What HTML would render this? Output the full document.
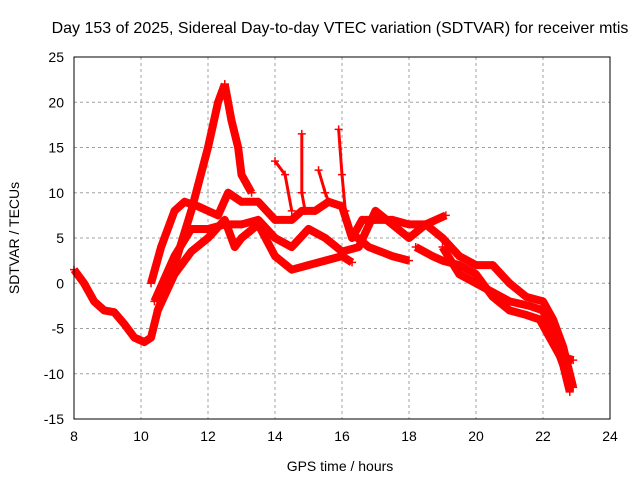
<!DOCTYPE html>
<html><head><meta charset="utf-8"><style>
body{margin:0;background:#fff;width:640px;height:480px;overflow:hidden}
svg text{font-family:"Liberation Sans",sans-serif;font-size:14px;fill:#000}
</style></head><body>
<svg id="c" width="640" height="480">
<text x="340" y="33" text-anchor="middle" style="font-size:16px">Day 153 of 2025, Sidereal Day-to-day VTEC variation (SDTVAR) for receiver mtis</text>
<text x="340" y="471" text-anchor="middle">GPS time / hours</text>
<text x="19" y="238" text-anchor="middle" transform="rotate(-90 19 238)">SDTVAR / TECUs</text>
<g id="grid"></g><g id="marks"></g>
<rect x="74" y="57" width="536" height="362" fill="none" stroke="#000"/>
</svg>
<script>
const xTicks=[8,10,12,14,16,18,20,22,24];
const yTicks=[25,20,15,10,5,0,-5,-10,-15];
const traceA=[[8,1.5],[8.3,0],[8.6,-2],[8.9,-3],[9.2,-3.2],[9.5,-4.5],[9.8,-6],[10.1,-6.5],[10.3,-6],[10.5,-3],[10.8,0],[11,2],[11.5,8],[12,15],[12.3,20],[12.5,22]];
const traceB=[[10.3,0],[10.6,4],[11,8],[11.3,9],[11.7,8.5],[12,8],[12.3,7.5],[12.6,10],[13,9],[13.5,9],[14,7],[14.5,7],[14.8,8],[15.2,8],[15.6,9],[16,8.5],[16.3,5],[16.6,7],[17,7],[17.5,7],[18,6.5],[18.5,6.5],[19,5],[19.5,3],[20,2],[20.5,2],[21,0],[21.5,-1.5],[22,-2],[22.3,-4],[22.6,-7],[22.9,-11.5]];
const traceC=[[10.4,-2],[11,3],[11.5,6],[12,6],[12.5,6.5],[13,6.5],[13.5,7],[14,5],[14.5,4],[15,6],[15.5,5],[16,3.5],[16.5,4],[17,8],[17.5,6.5],[18,5],[18.5,6.5],[19.1,7.5]];
const traceD=[[10.5,-3],[11,1],[11.5,3.5],[12,5],[12.5,7],[12.8,4],[13,5],[13.5,6.5],[14,3],[14.5,1.5],[15,2],[15.5,2.5],[16,3],[16.3,2.3]];
const traceE=[[16.3,5.5],[16.8,4],[17.5,3],[18,2.5]];
const traceF=[[18.2,4],[18.7,3],[19,2.5],[19.5,2],[20,1],[20.5,-1.5],[21,-3],[21.5,-3.5],[21.9,-4],[22.2,-6],[22.5,-8],[22.9,-8.5]];
const traceG=[[19,4],[19.5,1],[20,0],[20.5,-1],[21,-2],[21.6,-2.5],[22,-3],[22.3,-6],[22.6,-9],[22.8,-12]];
const traceH=[[12.5,22],[12.7,18],[12.9,15],[13,12],[13.3,10]];
const spike1=[[14,13.5],[14.3,12],[14.5,8]];
const spike2=[[14.8,16.5],[14.8,10],[14.9,8]];
const spike3=[[15.3,12.5],[15.5,10],[15.6,9]];
const spike4=[[15.9,17],[16,12],[16.1,8]];
const traces=[traceA,traceB,traceC,traceD,traceE,traceF,traceG,traceH,spike1,spike2,spike3,spike4];
const X=v=>74+(v-8)*536/16, Y=v=>57+(25-v)*362/40;
const ns="http://www.w3.org/2000/svg", svg=document.getElementById('c');
const g=document.getElementById('grid'), m=document.getElementById('marks');
function el(t,a,p){const e=document.createElementNS(ns,t);for(const k in a)e.setAttribute(k,a[k]);p.appendChild(e);return e;}
xTicks.forEach(v=>{
 if(v>8&&v<24){const l=el('line',{x1:X(v),x2:X(v),y1:57,y2:419,stroke:'#a0a0a0','stroke-dasharray':'3,3'},g);}
 const t=el('text',{x:X(v),y:441,'text-anchor':'middle'},g);t.textContent=v;
 
 
});
yTicks.forEach(v=>{
 if(v<25&&v>-15){const l=el('line',{x1:74,x2:610,y1:Y(v),y2:Y(v),stroke:'#a0a0a0','stroke-dasharray':'3,3'},g);}
 const t=el('text',{x:64,y:Y(v)+5,'text-anchor':'end'},g);t.textContent=v;
 
 
});
traces.forEach((tr,i)=>{
 const p=el('polyline',{points:tr.map(d=>X(d[0])+','+Y(d[1])).join(' '),fill:'none',stroke:'#f00','stroke-width':i>7?3:8,'stroke-linejoin':'round'},m);
 
 
 tr.forEach(d=>{
  const c=el('path',{d:`M${X(d[0])-4},${Y(d[1])}h8M${X(d[0])},${Y(d[1])-4}v8`,stroke:'#f00','stroke-width':1.5},m);
  
  
 });
});
</script>
</body></html>
